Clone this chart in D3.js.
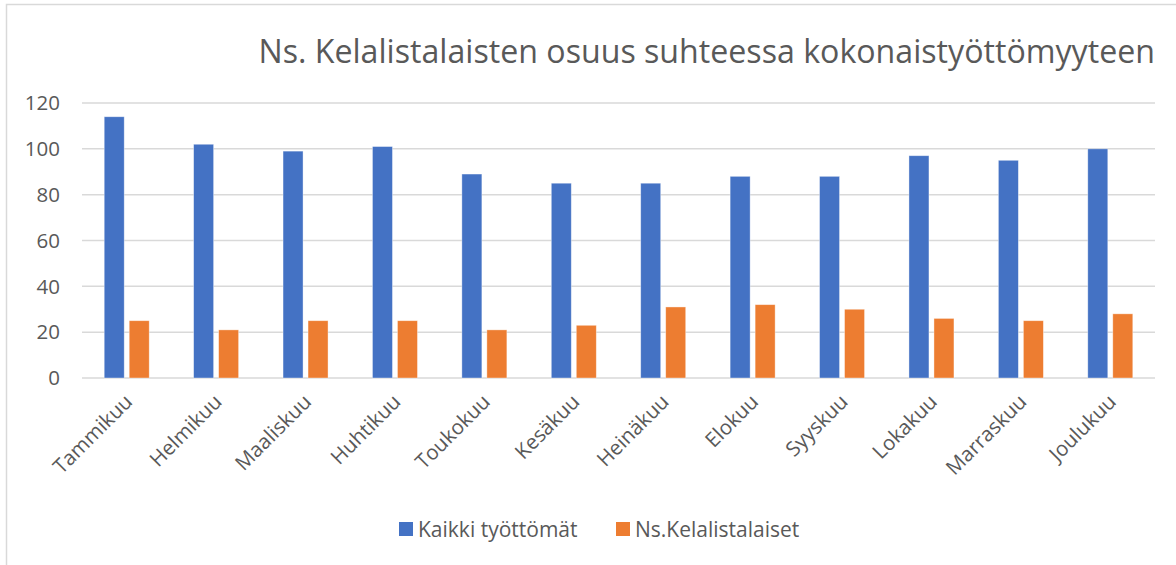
<!DOCTYPE html>
<html>
<head>
<meta charset="utf-8">
<script src="https://cdn.jsdelivr.net/npm/d3@7"></script>
<style>
  body { margin: 0; background: #fff; }
  svg text { font-family: "Open Sans", "Noto Sans", sans-serif; fill: #595959; }
</style>
</head>
<body>
<svg id="chart" width="1176" height="565"></svg>
<script>
// --- DATA ---
const months = ["Tammikuu", "Helmikuu", "Maaliskuu", "Huhtikuu", "Toukokuu", "Kesäkuu",
                "Heinäkuu", "Elokuu", "Syyskuu", "Lokakuu", "Marraskuu", "Joulukuu"];
const kaikki = [114, 102, 99, 101, 89, 85, 85, 88, 88, 97, 95, 100];
const kelalistalaiset = [25, 21, 25, 25, 21, 23, 31, 32, 30, 26, 25, 28];
const seriesNames = ["Kaikki työttömät", "Ns.Kelalistalaiset"];
const yTicks = [0, 20, 40, 60, 80, 100, 120];
const titleText = "Ns. Kelalistalaisten osuus suhteessa kokonaistyöttömyyteen";

(function() {
    const width = 1176, height = 565;
    const plot = { left: 82, right: 1155, top: 103, bottom: 378 };
    const COLORS = ["#4472c4", "#ed7d31"];

    const svg = d3.select("#chart");

    // chart frame
    svg.append("rect")
        .attr("x", 6.5).attr("y", 4.5)
        .attr("width", width + 10).attr("height", height + 10)
        .attr("fill", "none").attr("stroke", "#d9d9d9").attr("stroke-width", 1.5);

    // title, fitted to the width seen in the reference
    const title = svg.append("text")
        .attr("x", plot.right).attr("y", 63)
        .attr("text-anchor", "end")
        .attr("font-size", 32)
        .text(titleText);
    const tw = title.node().getComputedTextLength();
    title.attr("font-size", 32 * 897 / tw);

    const y = d3.scaleLinear().domain([0, 120]).range([plot.bottom, plot.top]);
    const x0 = d3.scaleBand().domain(months).range([plot.left, plot.right]);
    const barW = 20, gap = 5;

    // gridlines
    svg.append("g")
        .selectAll("line")
        .data(yTicks)
        .join("line")
        .attr("x1", plot.left).attr("x2", plot.right)
        .attr("y1", d => y(d)).attr("y2", d => y(d))
        .attr("stroke", "#d9d9d9").attr("stroke-width", 1.5);

    // y labels
    svg.append("g")
        .selectAll("text")
        .data(yTicks)
        .join("text")
        .attr("x", 60).attr("y", d => y(d))
        .attr("dy", "0.35em")
        .attr("text-anchor", "end")
        .attr("font-size", 20.5)
        .text(d => d);

    // bars
    const series = [kaikki, kelalistalaiset];
    series.forEach((vals, si) => {
        svg.append("g")
            .selectAll("rect")
            .data(vals)
            .join("rect")
            .attr("x", (d, i) => x0(months[i]) + x0.bandwidth() / 2 - (barW * 2 + gap) / 2 + si * (barW + gap))
            .attr("y", d => y(d))
            .attr("width", barW)
            .attr("height", d => y(0) - y(d))
            .attr("fill", COLORS[si])
            .attr("stroke", "#fff").attr("stroke-opacity", 0.5).attr("stroke-width", 0.75);
    });

    // x labels, rotated
    svg.append("g")
        .selectAll("text")
        .data(months)
        .join("text")
        .attr("transform", d => `translate(${x0(d) + x0.bandwidth() / 2 + 7},${plot.bottom + 25}) rotate(-45)`)
        .attr("text-anchor", "end")
        .attr("font-size", 20.5)
        .text(d => d);

    // legend
    const legend = svg.append("g");
    const legendX = [399, 616];
    seriesNames.forEach((name, i) => {
        legend.append("rect")
            .attr("x", legendX[i]).attr("y", 522)
            .attr("width", 14).attr("height", 14)
            .attr("fill", COLORS[i]);
        legend.append("text")
            .attr("x", legendX[i] + 19).attr("y", 537)
            .attr("font-size", 21)
            .text(name);
    });
})();
</script>
</body>
</html>
